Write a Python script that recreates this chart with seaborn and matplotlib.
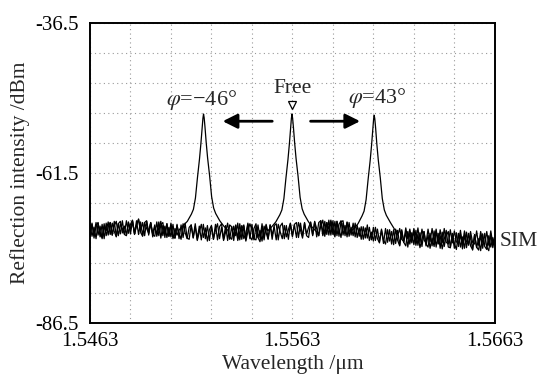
import numpy as np
import pandas as pd
import seaborn as sns
import matplotlib.pyplot as plt

# wavelength axis of the OSA traces (um), sample step 0.0001
wl_start = 1.5463
wl_step = 0.0001

# noise floor of each recorded trace, dBm
trace_m46 = [
    -72.3, -70.1, -71.6, -69.8, -71.9, -70.4, -72.5, -70.6, -71.2, -69.7,
    -71.8, -69.9, -71.3, -72.2, -70.0, -69.6, -71.5, -70.4, -71.9, -69.8,
    -70.9, -69.5, -71.7, -70.2, -69.3, -71.4, -72.1, -69.9, -70.8, -71.6,
    -69.9, -72.2, -70.5, -71.8, -69.7, -72.4, -70.3, -71.6, -70.0, -72.1,
    -70.2, -72.5, -70.8, -71.9, -70.1, -72.3, -71.2, -69.9, -72.6, -70.7,
    -72.4, -70.3, -71.8, -72.7, -70.5, -71.3, -72.6, -70.2, -71.9, -70.8,
    -72.5, -70.4, -71.7, -70.6, -72.9, -71.2, -70.1, -72.3, -71.0, -72.6,
    -70.5, -72.1, -70.2, -72.8, -71.4, -70.3, -72.5, -71.6, -69.9, -72.2,
    -72.7, -70.8, -70.0, -72.3, -71.1, -72.9, -70.4, -71.5, -72.6, -70.2,
    -71.9, -70.5, -72.7, -70.1, -71.4, -72.5, -70.3, -72.2, -71.0, -69.9,
    -72.0, -70.2, -72.3, -69.8, -71.1, -72.4, -69.9, -71.8, -70.6, -69.8,
    -71.9, -69.7, -70.8, -72.0, -69.5, -71.2, -72.1, -69.8, -70.9, -69.4,
    -71.3, -72.2, -69.6, -70.9, -72.3, -69.9, -71.5, -69.7, -72.1, -70.6,
    -72.0, -69.9, -72.3, -70.7, -72.6, -70.5, -72.4, -70.2, -72.8, -71.4,
    -72.9, -70.6, -72.5, -73.2, -70.9, -72.7, -73.4, -71.0, -72.9, -71.3,
    -73.5, -70.9, -72.8, -73.7, -71.0, -73.1, -71.4, -73.9, -71.5, -73.2,
    -71.2, -73.6, -71.8, -74.0, -72.6, -71.3, -73.7, -71.9, -74.1, -72.4,
    -73.8, -71.2, -73.4, -72.0, -74.2, -72.6, -71.1, -73.9, -74.0, -71.6,
    -73.3, -74.3, -71.6, -73.9, -72.2, -74.1, -71.4, -73.6, -72.0, -74.4,
    -71.8, -74.0, -72.5, -74.5, -71.7, -73.8, -74.3, -72.0, -73.9, -72.3,
    -73.6,
]
trace_free = [
    -70.2, -72.1, -70.6, -72.5, -69.9, -71.8, -72.3, -70.0, -72.0, -70.5,
    -69.8, -71.9, -70.3, -69.6, -72.0, -70.1, -70.8, -71.7, -69.5, -71.6,
    -70.1, -69.4, -71.8, -70.3, -69.2, -71.1, -69.8, -72.0, -69.6, -71.4,
    -69.8, -71.7, -70.2, -72.1, -70.7, -69.6, -72.0, -70.4, -72.3, -70.6,
    -72.2, -70.1, -72.4, -70.3, -71.6, -72.6, -70.0, -71.5, -72.5, -70.6,
    -70.2, -72.4, -70.5, -72.8, -71.4, -70.1, -72.3, -70.7, -72.9, -71.0,
    -70.3, -72.6, -71.0, -70.0, -72.5, -70.6, -72.8, -71.4, -69.9, -72.2,
    -72.6, -70.4, -72.0, -69.9, -72.7, -70.8, -70.2, -72.9, -71.3, -70.0,
    -71.0, -72.7, -70.5, -72.3, -73.0, -70.6, -72.4, -70.1, -71.8, -72.6,
    -70.3, -72.8, -70.7, -72.2, -69.9, -71.9, -72.5, -70.2, -72.7, -70.8,
    -70.0, -72.1, -69.9, -72.4, -71.0, -69.7, -72.2, -70.3, -69.6, -71.9,
    -69.9, -71.8, -69.6, -72.0, -70.4, -69.4, -71.7, -69.8, -71.9, -69.6,
    -71.8, -69.6, -72.0, -70.1, -69.5, -71.9, -70.3, -72.2, -69.8, -71.9,
    -69.9, -72.2, -70.3, -72.1, -70.5, -72.6, -70.7, -72.4, -70.6, -72.7,
    -70.6, -72.8, -70.9, -73.0, -71.1, -73.3, -70.8, -73.1, -71.0, -73.4,
    -71.0, -73.3, -71.1, -73.6, -71.2, -73.1, -73.7, -71.3, -73.4, -71.5,
    -73.5, -71.1, -73.6, -71.5, -73.8, -71.3, -73.4, -73.9, -71.6, -73.7,
    -71.2, -73.9, -71.6, -74.1, -71.4, -73.8, -72.0, -71.3, -74.0, -71.8,
    -74.1, -71.5, -73.8, -71.7, -74.2, -71.9, -74.0, -71.6, -73.7, -74.3,
    -71.8, -73.9, -74.4, -71.9, -74.1, -71.6, -73.9, -74.5, -71.8, -74.0,
    -72.2,
]
trace_p43 = [
    -72.0, -69.9, -72.4, -70.3, -69.8, -72.2, -70.1, -72.5, -69.9, -71.9,
    -69.8, -71.9, -69.6, -72.1, -70.0, -71.7, -69.5, -71.8, -72.0, -69.7,
    -71.7, -69.6, -71.6, -69.5, -71.8, -69.7, -72.0, -69.8, -69.5, -71.9,
    -69.8, -71.8, -72.1, -69.7, -72.0, -70.2, -69.8, -72.3, -70.0, -72.1,
    -69.9, -72.2, -72.4, -70.1, -72.5, -70.2, -72.3, -69.9, -72.4, -72.6,
    -70.2, -72.3, -70.0, -72.6, -70.4, -72.7, -70.1, -72.5, -70.3, -72.8,
    -70.4, -72.6, -70.1, -72.7, -70.5, -70.0, -72.6, -70.3, -72.8, -70.2,
    -70.5, -72.8, -70.3, -72.5, -70.0, -72.6, -70.4, -72.7, -70.1, -72.5,
    -70.1, -72.5, -72.7, -70.2, -72.4, -70.0, -72.7, -70.3, -72.5, -70.2,
    -72.6, -70.3, -70.0, -72.7, -70.4, -69.9, -72.5, -70.3, -72.6, -70.0,
    -72.2, -70.1, -69.8, -72.3, -69.9, -72.1, -69.8, -72.0, -72.3, -69.7,
    -72.0, -69.6, -72.2, -69.8, -69.5, -72.0, -69.6, -71.8, -69.4, -71.9,
    -69.5, -71.9, -69.6, -72.1, -69.7, -69.5, -72.0, -69.8, -69.6, -72.1,
    -72.0, -70.2, -71.8, -72.5, -70.2, -69.9, -72.4, -70.2, -72.0, -70.3,
    -72.2, -70.5, -72.3, -70.6, -72.4, -70.3, -72.7, -70.4, -72.6, -70.5,
    -72.6, -70.9, -72.5, -70.8, -72.6, -73.0, -70.7, -72.5, -70.9, -72.7,
    -70.8, -73.0, -70.7, -73.1, -70.9, -72.7, -73.2, -70.9, -73.0, -70.8,
    -73.1, -70.9, -73.3, -71.0, -73.2, -70.8, -73.1, -73.4, -71.0, -73.2,
    -71.2, -73.0, -73.4, -71.1, -73.5, -71.2, -73.0, -73.4, -71.3, -73.1,
    -73.4, -71.2, -73.6, -71.3, -73.1, -73.5, -71.3, -73.6, -71.2, -73.4,
    -72.5,
]

# reflection peaks (centre wavelength, um) and their profiles
peak_centers = [1.55191, 1.55628, 1.56034]
peak_offsets = [-0.0012, -0.0010, -0.0008, -0.0006, -0.0005, -0.0004, -0.0003,
                -0.0002, -0.00013, -0.00007, -0.00003, 0.0, 0.00003, 0.00007,
                0.00013, 0.0002, 0.0003, 0.0004, 0.0005, 0.0006, 0.0008,
                0.0010, 0.0012]
peak_m46 = [-71.0, -70.3, -69.6, -68.4, -67.6, -65.7, -62.3, -59.2, -56.6,
            -54.0, -52.4, -51.7, -52.3, -53.8, -56.4, -59.0, -62.0, -65.5,
            -67.4, -68.3, -69.5, -70.4, -71.1]
peak_free = [-71.2, -70.5, -69.7, -68.5, -67.7, -65.8, -62.4, -59.3, -56.7,
             -54.1, -52.4, -51.7, -52.4, -53.9, -56.5, -59.1, -62.1, -65.6,
             -67.5, -68.4, -69.6, -70.6, -71.3]
peak_p43 = [-71.4, -70.8, -70.0, -68.7, -67.9, -66.0, -62.6, -59.5, -56.9,
            -54.3, -52.6, -51.9, -52.5, -54.0, -56.7, -59.3, -62.3, -65.8,
            -67.7, -68.6, -69.8, -70.9, -71.6]

labels = ["φ=-46°", "Free", "φ=43°"]
x_ticks = [1.5463, 1.5563, 1.5663]
y_ticks = [-86.5, -61.5, -36.5]

rows = []
for name, base, center, peak in zip(labels, [trace_m46, trace_free, trace_p43],
                                    peak_centers, [peak_m46, peak_free, peak_p43]):
    wl = wl_start + wl_step * np.arange(len(base))
    keep = np.abs(wl - center) > 0.00125
    x = np.concatenate([wl[keep], center + np.array(peak_offsets)])
    y = np.concatenate([np.array(base)[keep], peak])
    order = np.argsort(x)
    rows.append(pd.DataFrame({"wl": x[order], "dbm": y[order], "trace": name}))
df = pd.concat(rows, ignore_index=True)

sns.set_theme(style="white")
plt.rcParams["font.family"] = ["Liberation Serif", "DejaVu Serif"]
plt.rcParams["mathtext.fontset"] = "stix"

fig = plt.figure(figsize=(5.42, 3.76), dpi=100)
ax = fig.add_axes([0.166, 0.142, 0.747, 0.797])

sns.lineplot(data=df, x="wl", y="dbm", hue="trace", units="trace", estimator=None,
             sort=False, palette=["black"] * 3, linewidth=0.9, legend=False, ax=ax)

ax.set_xlim(x_ticks[0], x_ticks[-1])
ax.set_ylim(y_ticks[0], y_ticks[-1])
ax.set_xticks(x_ticks)
ax.set_yticks(y_ticks)
ax.set_xticklabels([f"{v:.4f}" for v in x_ticks])
ax.set_yticklabels([f"{v:.1f}" for v in y_ticks])
ax.set_xticks(np.linspace(x_ticks[0], x_ticks[-1], 11), minor=True)
ax.set_yticks(np.linspace(y_ticks[0], y_ticks[-1], 11), minor=True)
ax.grid(True, which="both", linestyle=(0, (1, 3)), color="#999999", linewidth=0.8)
ax.tick_params(which="both", length=0, labelsize=15, colors="black")
ax.tick_params(axis="x", pad=7)
ax.tick_params(axis="y", pad=8)
for sp in ax.spines.values():
    sp.set_color("black")
    sp.set_linewidth(1.4)

ax.set_xlabel("Wavelength /μm", fontsize=15.5, labelpad=3)
ax.set_ylabel("Reflection intensity /dBm", fontsize=15.5, labelpad=4)

# annotations
ax.text(1.55183, -49.4, r"$\varphi$=−46°", fontsize=16, ha="center", va="center")
ax.text(1.55632, -47.4, "Free", fontsize=15.5, ha="center", va="center")
ax.plot([1.55627], [-50.2], marker="v", ms=6, mfc="white", mec="black", mew=0.9)
ax.text(1.56047, -49.0, r"$\varphi$=43°", fontsize=16, ha="center", va="center")
arrow = dict(arrowstyle="-|>", color="black", lw=2.0, mutation_scale=22)
ax.annotate("", xy=(1.55272, -52.9), xytext=(1.55544, -52.9), arrowprops=arrow)
ax.annotate("", xy=(1.55978, -52.9), xytext=(1.55706, -52.9), arrowprops=arrow)
ax.text(1.012, -72.9, "SIM", fontsize=15.5, ha="left", va="center",
        transform=ax.get_yaxis_transform())

fig.savefig("out.png", dpi=100)
